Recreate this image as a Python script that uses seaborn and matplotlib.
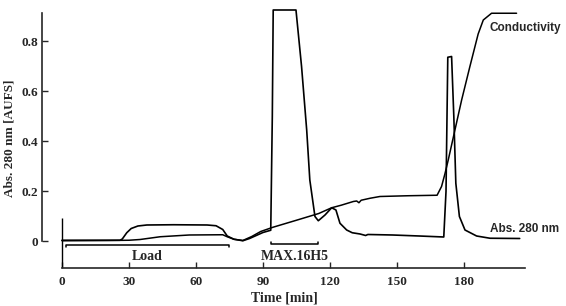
import numpy as np
import pandas as pd
import matplotlib
matplotlib.use("Agg")
import matplotlib.pyplot as plt
import seaborn as sns

# Abs. 280 nm trace (time in min, absorbance in AUFS)
abs_time = [0, 26, 27, 29, 31, 34, 38, 50, 65, 69, 72, 74, 77, 81, 84, 86, 90, 93.5,
            94.2, 94.6, 104.8, 107.3, 109.6, 111, 113.3, 114.8, 117.8, 120.8, 122.7,
            124.5, 127.5, 130, 133.5, 136, 137, 148, 160, 171, 172, 172.8, 174.5,
            175.5, 176.4, 178, 180.5, 185.7, 191.7, 205]
abs_value = [0.005, 0.005, 0.01, 0.035, 0.052, 0.062, 0.066, 0.067, 0.066, 0.063, 0.048,
             0.022, 0.009, 0.003, 0.012, 0.02, 0.036, 0.045,
             0.5, 0.926, 0.926, 0.70, 0.446, 0.246, 0.10, 0.083, 0.106, 0.135, 0.126,
             0.073, 0.046, 0.035, 0.03, 0.024, 0.028, 0.026, 0.022, 0.018, 0.2, 0.737, 0.74,
             0.5, 0.233, 0.10, 0.046, 0.022, 0.013, 0.012]

# Conductivity trace (same axis, arbitrary units)
cond_time = [0, 20, 30, 35, 44, 57, 72, 74, 77, 81, 85, 89, 94.5, 105, 115, 120.8, 125,
             130.5, 132, 133, 134, 138, 142.4, 155, 168, 170, 171.5, 173, 176, 179,
             182.7, 186.4, 188.7, 192.4, 203.6]
cond_value = [0.003, 0.004, 0.005, 0.008, 0.019, 0.026, 0.027, 0.019, 0.009, 0.004, 0.02,
              0.04, 0.057, 0.085, 0.112, 0.135, 0.145, 0.16, 0.162, 0.155, 0.165, 0.173,
              0.18, 0.183, 0.185, 0.22, 0.27, 0.326, 0.446, 0.566, 0.70, 0.83, 0.886,
              0.913, 0.913]

# fraction brackets below the baseline
fractions = ["Load", "MAX.16H5"]
frac_start = [1.8, 93.7]
frac_end = [75, 114.5]

x_ticks = [0, 30, 60, 90, 120, 150, 180]
y_ticks = [0, 0.2, 0.4, 0.6, 0.8]
y_ticklabels = ["0", "0.2", "0.4", "0.6", "0.8"]

sns.set_style("ticks")
plt.rcParams["font.family"] = ["Liberation Serif", "DejaVu Serif"]

fig = plt.figure(figsize=(5.66, 3.06), dpi=100)
ax = fig.add_axes([0.0742, 0.1242, 0.9300 - 0.0742, 0.9706 - 0.1242])

df_abs = pd.DataFrame({"t": abs_time, "v": abs_value})
df_cond = pd.DataFrame({"t": cond_time, "v": cond_value})
sns.lineplot(data=df_abs, x="t", y="v", sort=False, color="black", lw=1.2, ax=ax)
sns.lineplot(data=df_cond, x="t", y="v", sort=False, color="black", lw=1.1, ax=ax)

# start marker at t = 0
ax.vlines(0, -0.106, 0.094, color="black", lw=1.0)

# brackets for the collected fractions
ax.plot([frac_start[0], frac_start[0], frac_end[0], frac_end[0]],
        [-0.022, -0.015, -0.015, -0.022], color="black", lw=1.1)
ax.plot([frac_start[1], frac_start[1], frac_end[1], frac_end[1]],
        [-0.004, -0.011, -0.011, -0.004], color="black", lw=1.1)
for name, s, e in zip(fractions, frac_start, frac_end):
    ax.text((s + e) / 2, -0.062, name, ha="center", va="center", fontsize=10,
            fontweight="bold")

ax.text(191.9, 0.05, "Abs. 280 nm", ha="left", va="center", fontsize=8.5,
        family=["Liberation Sans"], fontweight="bold")
ax.text(191.7, 0.853, "Conductivity", ha="left", va="center", fontsize=8.5,
        family=["Liberation Sans"], fontweight="bold")

ax.set_xlim(-8.96, 208)
ax.set_ylim(-0.106, 0.93)
ax.set_xticks(x_ticks)
ax.set_xticklabels([str(t) for t in x_ticks], fontweight="bold", fontsize=9.5)
ax.set_yticks(y_ticks)
ax.set_yticklabels(y_ticklabels, fontweight="bold", fontsize=9.5)
ax.tick_params(direction="in", length=4, width=1, pad=3)
ax.tick_params(axis="x", pad=6)

ax.set_xlabel("Time [min]", fontsize=10, fontweight="bold", labelpad=2)
ax.set_ylabel("Abs. 280 nm [AUFS]", fontsize=9.5, fontweight="bold", labelpad=4)

sns.despine(ax=ax)
ax.spines["left"].set_bounds(0, 0.913)
ax.spines["bottom"].set_bounds(0, 207.5)
ax.spines["left"].set_linewidth(1.2)
ax.spines["bottom"].set_linewidth(1.2)

fig.savefig("out.png", dpi=100)
